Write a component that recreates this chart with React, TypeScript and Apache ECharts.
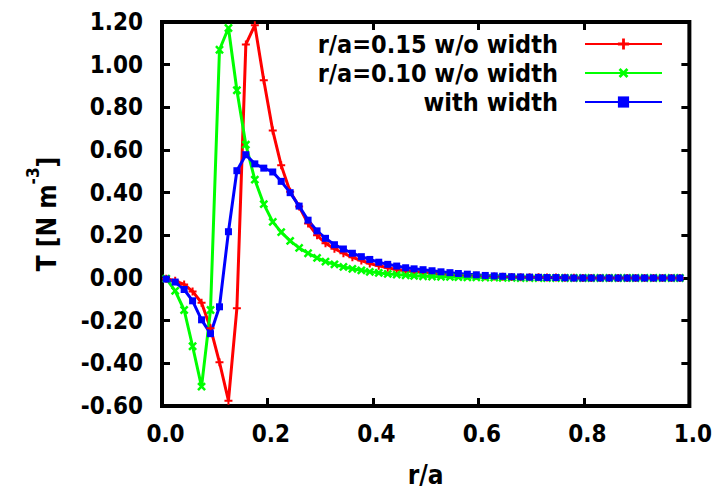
import React, { useEffect, useRef } from "react";
import * as echarts from "echarts";

// r/a grid positions
const rA = [
  0.008, 0.025, 0.042, 0.058, 0.075, 0.092, 0.109, 0.126, 0.142, 0.159,
  0.176, 0.193, 0.21, 0.226, 0.243, 0.26, 0.277, 0.294, 0.31, 0.327,
  0.344, 0.361, 0.378, 0.394, 0.411, 0.428, 0.445, 0.462, 0.478, 0.495,
  0.512, 0.529, 0.546, 0.562, 0.579, 0.596, 0.613, 0.63, 0.646, 0.663,
  0.68, 0.697, 0.714, 0.73, 0.747, 0.764, 0.781, 0.798, 0.814, 0.831,
  0.848, 0.865, 0.882, 0.898, 0.915, 0.932, 0.949, 0.966, 0.982,
];

// r/a=0.15 w/o width (red)
const red015 = [
  -0.003, -0.013, -0.03, -0.063, -0.116, -0.235, -0.395, -0.575, -0.142, 1.095,
  1.185, 0.927, 0.691, 0.528, 0.404, 0.335, 0.255, 0.2, 0.163, 0.137,
  0.116, 0.097, 0.082, 0.068, 0.057, 0.048, 0.04, 0.034, 0.03, 0.026,
  0.022, 0.019, 0.016, 0.014, 0.012, 0.01, 0.008, 0.007, 0.006, 0.005,
  0.004, 0.003, 0.003, 0.002, 0.002, 0.001, 0.001, 0, 0, 0,
  0, 0, 0, 0, 0, 0, 0, 0, 0,
];

// r/a=0.10 w/o width (green)
const green010 = [
  -0.003, -0.06, -0.15, -0.32, -0.509, -0.15, 1.07, 1.172, 0.88, 0.625,
  0.461, 0.346, 0.263, 0.215, 0.174, 0.141, 0.116, 0.094, 0.077, 0.064,
  0.052, 0.043, 0.036, 0.029, 0.024, 0.019, 0.016, 0.013, 0.01, 0.008,
  0.007, 0.006, 0.005, 0.004, 0.003, 0.003, 0.002, 0.002, 0.001, 0.001,
  0, 0, 0, 0, 0, 0, 0, 0, 0, 0,
  0, 0, 0, 0, 0, 0, 0, 0, 0,
];

// with width (blue)
const blueWidth = [
  -0.005, -0.019, -0.054, -0.107, -0.196, -0.261, -0.135, 0.217, 0.503, 0.578,
  0.535, 0.515, 0.497, 0.453, 0.4, 0.337, 0.271, 0.221, 0.186, 0.156,
  0.136, 0.116, 0.1, 0.087, 0.074, 0.064, 0.056, 0.048, 0.043, 0.039,
  0.034, 0.029, 0.025, 0.021, 0.018, 0.015, 0.012, 0.01, 0.008, 0.006,
  0.005, 0.004, 0.003, 0.002, 0.002, 0.001, 0, 0, 0, 0,
  0, 0, 0, 0, 0, 0, 0, 0, 0,
];

const seriesNames = ["r/a=0.15 w/o width", "r/a=0.10 w/o width", "with width"];
const seriesColors = ["#ff0000", "#00ff00", "#0000ff"];

const FONT = "'DejaVu Sans Condensed', 'Liberation Sans', Arial, sans-serif";
const PLUS = "path://M3,0h2v3h3v2h-3v3h-2v-3h-3v-2h3z";

export default function App() {
  const ref = useRef<HTMLDivElement>(null);
  useEffect(() => {
    if (!ref.current) return;
    const chart = echarts.init(ref.current, null, { renderer: "svg" });
    const pair = (ys: number[]) => rA.map((x, i) => [x, ys[i]]);
    const tickStyle = { show: true, inside: true, length: 8, lineStyle: { color: "#000", width: 3 } };
    const labelBase = { fontFamily: FONT, fontWeight: "bold", fontSize: 24, color: "#000" };
    chart.setOption({
      animation: false,
      backgroundColor: "#ffffff",
      grid: {
        left: 162, right: 24, top: 22, bottom: 83,
        show: true, borderColor: "#000", borderWidth: 4, backgroundColor: "transparent",
      },
      legend: {
        orient: "vertical", align: "right", right: 52, top: 31, padding: 0,
        itemWidth: 77, itemHeight: 14, itemGap: 3,
        textStyle: { ...labelBase, fontSize: 25, lineHeight: 26, padding: [0, 22, 0, 0] },
        data: seriesNames,
      },
      xAxis: [
        {
          type: "value", min: 0, max: 1, interval: 0.2, position: "bottom",
          axisLine: { show: false, onZero: false },
          axisTick: tickStyle,
          splitLine: { show: false },
          axisLabel: { ...labelBase, margin: 16, padding: [0, 0, 0, 7], formatter: (v: number) => v.toFixed(1) },
          name: "r/a", nameLocation: "middle", nameGap: 56,
          nameTextStyle: { ...labelBase, fontSize: 26 },
        },
        {
          type: "value", min: 0, max: 1, interval: 0.2, position: "top",
          axisLine: { show: false, onZero: false },
          axisTick: tickStyle, axisLabel: { show: false }, splitLine: { show: false },
        },
      ],
      yAxis: [
        {
          type: "value", min: -0.6, max: 1.2, interval: 0.2, position: "left",
          axisLine: { show: false, onZero: false },
          axisTick: tickStyle,
          splitLine: { show: false },
          axisLabel: { ...labelBase, margin: 19, formatter: (v: number) => v.toFixed(2) },
          name: "{a|T [N m}{s|-3}{a|]}", nameLocation: "middle", nameGap: 102,
          nameTextStyle: {
            rich: {
              a: { ...labelBase, fontSize: 26, lineHeight: 36, verticalAlign: "bottom" },
              s: { ...labelBase, fontSize: 17, lineHeight: 17, verticalAlign: "top" },
            },
          },
        },
        {
          type: "value", min: -0.6, max: 1.2, interval: 0.2, position: "right",
          axisLine: { show: false, onZero: false },
          axisTick: tickStyle, axisLabel: { show: false }, splitLine: { show: false },
        },
      ],
      series: [
        {
          name: seriesNames[0], type: "line", data: pair(red015),
          symbol: PLUS, symbolSize: 8, showSymbol: true, showAllSymbol: true,
          lineStyle: { color: seriesColors[0], width: 3 },
          itemStyle: { color: seriesColors[0] },
        },
        {
          name: seriesNames[1], type: "line", data: pair(green010),
          symbol: PLUS, symbolSize: 10, symbolRotate: 45, showSymbol: true, showAllSymbol: true,
          lineStyle: { color: seriesColors[1], width: 3 },
          itemStyle: { color: seriesColors[1] },
        },
        {
          name: seriesNames[2], type: "line", data: pair(blueWidth),
          symbol: "rect", symbolSize: 7, showSymbol: true, showAllSymbol: true,
          lineStyle: { color: seriesColors[2], width: 3 },
          itemStyle: { color: seriesColors[2] },
        },
      ],
    });
    return () => chart.dispose();
  }, []);
  return <div ref={ref} style={{ position: "fixed", left: 0, top: 0, width: 715, height: 493 }} />;
}
